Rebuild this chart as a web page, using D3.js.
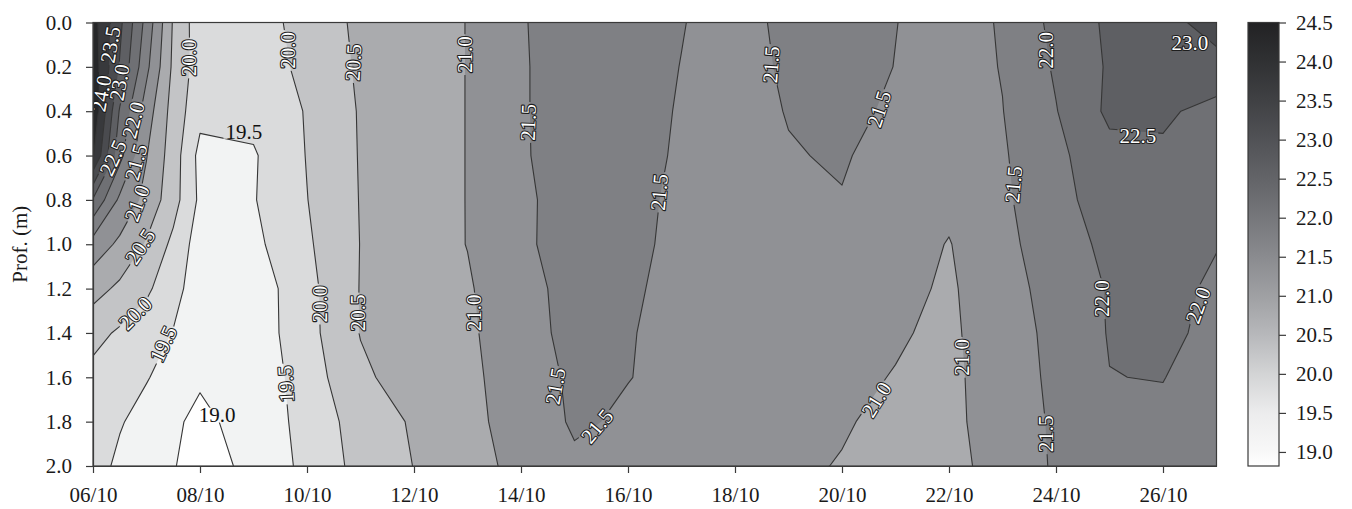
<!DOCTYPE html>
<html>
<head>
<meta charset="utf-8">
<script src="https://cdn.jsdelivr.net/npm/d3@7"></script>
<style>
  body { margin: 0; background: #fff; }
  svg { display: block; }
  text { font-family: "Liberation Serif", "Times New Roman", serif; }
</style>
</head>
<body>
<svg id="chart" width="1352" height="509"></svg>
<script>
// Sampling days (October) and depths (m) of the temperature grid
const days = [6, 6.5, 7, 7.5, 8, 9, 10, 11, 12, 13, 14, 15, 16, 17, 18, 19, 20, 21, 22, 23, 24, 25, 26, 27];
const depths = [0.0, 0.2, 0.4, 0.6, 0.8, 1.0, 1.2, 1.4, 1.6, 1.8, 2.0];

// Water temperature (°C); one row per depth, one column per day
const temperature = [
  [24.2, 23.12, 21.83, 20.45, 19.7, 19.75, 20.2, 20.6, 20.8, 21.01, 21.47, 21.7, 21.72, 21.52, 21.3, 21.63, 21.75, 21.51, 21.3, 21.54, 22.14, 22.59, 22.9, 23.12],
  [24.3, 22.96, 21.62, 20.4, 19.75, 19.7, 20.14, 20.57, 20.8, 21.01, 21.46, 21.7, 21.7, 21.49, 21.25, 21.6, 21.7, 21.49, 21.3, 21.52, 22.06, 22.56, 22.8, 22.9],
  [24.4, 22.45, 21.25, 20.3, 19.65, 19.65, 20.03, 20.54, 20.8, 21.01, 21.45, 21.75, 21.75, 21.45, 21.25, 21.53, 21.65, 21.41, 21.3, 21.49, 21.98, 22.6, 22.6, 22.3],
  [24.05, 22.15, 21.02, 20.25, 19.35, 19.45, 20.02, 20.53, 20.8, 21.01, 21.45, 21.72, 21.7, 21.43, 21.25, 21.46, 21.56, 21.25, 21.3, 21.45, 21.88, 22.35, 22.4, 22.2],
  [22.45, 21.4, 20.85, 20.2, 19.4, 19.47, 19.99, 20.52, 20.8, 21.01, 21.42, 21.68, 21.6, 21.43, 21.3, 21.35, 21.47, 21.25, 21.1, 21.4, 21.9, 22.15, 22.2, 22.1],
  [21.3, 20.9, 20.45, 19.88, 19.25, 19.38, 19.93, 20.51, 20.78, 21.01, 21.45, 21.62, 21.55, 21.45, 21.3, 21.3, 21.3, 21.2, 20.98, 21.35, 21.8, 22.1, 22.15, 22.02],
  [20.69, 20.4, 20.09, 19.67, 19.23, 19.2, 19.85, 20.52, 20.8, 20.95, 21.35, 21.65, 21.55, 21.4, 21.3, 21.25, 21.2, 21.1, 20.95, 21.24, 21.75, 22.03, 22.15, 21.92],
  [20.16, 19.93, 19.72, 19.48, 19.26, 19.2, 19.83, 20.52, 20.75, 20.9, 21.37, 21.6, 21.52, 21.4, 21.3, 21.2, 21.15, 21.05, 20.9, 21.32, 21.6, 22.03, 22.15, 21.83],
  [19.85, 19.7, 19.53, 19.3, 19.08, 19.15, 19.75, 20.4, 20.75, 20.88, 21.27, 21.58, 21.51, 21.4, 21.3, 21.2, 21.1, 20.98, 20.85, 21.35, 21.56, 21.99, 22.02, 21.65],
  [19.8, 19.54, 19.32, 19.1, 18.85, 19.27, 19.62, 20.25, 20.55, 20.87, 21.2, 21.56, 21.44, 21.35, 21.25, 21.15, 21.05, 20.86, 20.85, 21.3, 21.55, 21.8, 21.85, 21.6],
  [19.7, 19.4, 19.25, 19.02, 18.85, 19.09, 19.64, 20.15, 20.51, 20.84, 21.12, 21.42, 21.35, 21.28, 21.2, 21.1, 20.97, 20.8, 20.78, 21.28, 21.54, 21.7, 21.75, 21.55]
];

// Contour levels (°C)
const levels = [19.0, 19.5, 20.0, 20.5, 21.0, 21.5, 22.0, 22.5, 23.0, 23.5, 24.0];

// Axis ticks
const xTickDays = [6, 8, 10, 12, 14, 16, 18, 20, 22, 24, 26];
const xTickLabels = ["06/10", "08/10", "10/10", "12/10", "14/10", "16/10", "18/10", "20/10", "22/10", "24/10", "26/10"];
const yTicks = [0.0, 0.2, 0.4, 0.6, 0.8, 1.0, 1.2, 1.4, 1.6, 1.8, 2.0];
const barTicks = [19.0, 19.5, 20.0, 20.5, 21.0, 21.5, 22.0, 22.5, 23.0, 23.5, 24.0, 24.5];
const barRange = [18.82, 24.5];

// Inline contour labels: level, anchor day, anchor depth, text angle
const labelValues = [24.0, 23.5, 23.0, 22.0, 22.5, 21.5, 21.0, 20.5, 20.0, 19.5, 19.0, 19.5, 20.0, 20.0, 20.5, 21.0, 21.5, 21.5, 20.0, 20.5, 21.0, 21.5, 21.5, 21.5, 21.5, 21.5, 22.0, 22.5, 23.0, 21.0, 21.0, 21.5, 22.0, 22.0, 19.5];
const labelDays = [6.15, 6.32, 6.49, 6.75, 6.37, 6.8, 6.82, 6.88, 6.79, 7.31, 8.32, 8.82, 7.79, 9.64, 10.86, 12.95, 14.13, 16.58, 10.24, 10.95, 13.12, 14.64, 15.42, 18.67, 20.69, 23.2, 23.81, 25.53, 26.5, 20.64, 22.24, 23.81, 24.86, 26.65, 9.6];
const labelDepths = [0.32, 0.1, 0.27, 0.44, 0.61, 0.63, 0.815, 1.01, 1.31, 1.45, 1.77, 0.49, 0.16, 0.126, 0.18, 0.145, 0.45, 0.765, 1.27, 1.31, 1.31, 1.64, 1.82, 0.19, 0.39, 0.73, 0.126, 0.51, 0.09, 1.70, 1.51, 1.855, 1.245, 1.275, 1.63];
const labelAngles = [-80, -80, -80, -75, -65, -75, -70, -57, -45, -65, 0, 0, -90, -90, -87, -90, -88, -85, -90, -90, -90, -80, -50, -86, -72, -85, -90, 0, 0, -58, -90, -90, -90, -70, -93];

// Grey fills for each band (below 19.0 stays white)
const bandFill = ["#f2f3f3", "#dadbdc", "#c3c4c6", "#aaabae", "#909195", "#7f8084", "#6f7074", "#5e5f63", "#4a4b4f", "#38393c", "#262729"];
const barStops = [18.82, 19.0, 19.5, 20.0, 20.5, 21.0, 21.5, 22.0, 22.5, 23.0, 23.5, 24.0, 24.5];
const barColors = ["#ffffff", "#f8f8f8", "#ececed", "#d3d4d5", "#b7b8bb", "#9fa0a3", "#8a8b8f", "#76777b", "#636468", "#515256", "#404144", "#303133", "#222224"];

const svg = d3.select("#chart");
const W = 1352, H = 509;
const plotLeft = 93, plotRight = 1216.5, plotTop = 22.5, plotBottom = 466;

const x = d3.scaleLinear().domain([days[0], days[days.length - 1]]).range([plotLeft, plotRight]);
const y = d3.scaleLinear().domain([depths[0], depths[depths.length - 1]]).range([plotTop, plotBottom]);

// Grid index space -> data space (cell centres sit at i + 0.5)
const colToDay = d3.scaleLinear().domain(days.map((d, i) => i + 0.5)).range(days);
const rowToDepth = d3.scaleLinear().domain(depths.map((d, i) => i + 0.5)).range(depths);
const gridProjection = d3.geoTransform({
  point(px, py) { this.stream.point(x(colToDay(px)), y(rowToDepth(py))); }
});
const path = d3.geoPath(gridProjection);

const bands = d3.contours()
  .size([days.length, depths.length])
  .thresholds(levels)(temperature.flat());

const defs = svg.append("defs");
defs.append("clipPath").attr("id", "plotClip")
  .append("rect")
  .attr("x", plotLeft).attr("y", plotTop)
  .attr("width", plotRight - plotLeft).attr("height", plotBottom - plotTop);

const mask = defs.append("mask").attr("id", "labelMask")
  .attr("maskUnits", "userSpaceOnUse")
  .attr("x", 0).attr("y", 0).attr("width", W).attr("height", H);
mask.append("rect").attr("x", 0).attr("y", 0).attr("width", W).attr("height", H).attr("fill", "white");

// Filled bands
const plot = svg.append("g").attr("clip-path", "url(#plotClip)");
plot.append("rect")
  .attr("x", plotLeft).attr("y", plotTop)
  .attr("width", plotRight - plotLeft).attr("height", plotBottom - plotTop)
  .attr("fill", "#ffffff");
plot.append("g").selectAll("path")
  .data(bands)
  .join("path")
  .attr("d", path)
  .attr("fill", (d, i) => bandFill[i]);

// Contour lines, broken where labels sit
plot.append("g").attr("mask", "url(#labelMask)")
  .selectAll("path")
  .data(bands)
  .join("path")
  .attr("d", path)
  .attr("fill", "none")
  .attr("stroke", "#363636")
  .attr("stroke-width", 1.1)
  .attr("stroke-linejoin", "round");

// Inline labels
const labels = labelValues.map((v, i) => ({
  value: v, day: labelDays[i], depth: labelDepths[i], angle: labelAngles[i]
}));
const labelG = svg.append("g").attr("clip-path", "url(#plotClip)");
labels.forEach(l => {
  const tr = `translate(${x(l.day)},${y(l.depth)}) rotate(${l.angle})`;
  const plain = l.value <= 19.5 && l.angle === 0;
  const t = labelG.append("text")
    .attr("transform", tr)
    .attr("text-anchor", "middle")
    .attr("dy", "0.35em")
    .attr("font-size", 21)
    .text(d3.format(".1f")(l.value));
  if (plain) {
    t.attr("fill", "#111");
  } else {
    t.attr("fill", "#ffffff")
      .attr("stroke", "#1e1e1e")
      .attr("stroke-width", 2.2)
      .attr("paint-order", "stroke")
      .attr("stroke-linejoin", "round");
  }
  const b = t.node().getBBox();
  mask.append("rect")
    .attr("transform", tr)
    .attr("x", b.x - 2).attr("y", b.y + b.height * 0.18)
    .attr("width", b.width + 4).attr("height", b.height * 0.62)
    .attr("fill", "black");
});

// Frame
svg.append("rect")
  .attr("x", plotLeft).attr("y", plotTop)
  .attr("width", plotRight - plotLeft).attr("height", plotBottom - plotTop)
  .attr("fill", "none").attr("stroke", "#3a3a3a").attr("stroke-width", 1.2);

// Axes
const xAxis = d3.axisBottom(x)
  .tickValues(xTickDays)
  .tickFormat((d, i) => xTickLabels[i])
  .tickSize(7).tickSizeOuter(0).tickPadding(14);
const gx = svg.append("g").attr("transform", `translate(0,${plotBottom})`).call(xAxis);

const yAxis = d3.axisLeft(y)
  .tickValues(yTicks)
  .tickFormat(d3.format(".1f"))
  .tickSize(7).tickSizeOuter(0).tickPadding(14);
const gy = svg.append("g").attr("transform", `translate(${plotLeft},0)`).call(yAxis);

[gx, gy].forEach(g => {
  g.selectAll("path.domain").attr("stroke", "#3a3a3a").attr("stroke-width", 1.2);
  g.selectAll(".tick line").attr("stroke", "#3a3a3a").attr("stroke-width", 1.2);
  g.selectAll(".tick text")
    .attr("font-family", "Liberation Serif, serif")
    .attr("font-size", 21)
    .attr("fill", "#1a1a1a");
});

svg.append("text")
  .attr("transform", `translate(20,${(plotTop + plotBottom) / 2}) rotate(-90)`)
  .attr("text-anchor", "middle")
  .attr("dy", "0.35em")
  .attr("font-size", 21)
  .attr("fill", "#1a1a1a")
  .text("Prof. (m)");

// Colour bar
const barX = 1248, barW = 31;
const cb = d3.scaleLinear().domain(barRange).range([plotBottom, plotTop]);
const barColor = d3.scaleLinear().domain(barStops).range(barColors);
const grad = defs.append("linearGradient").attr("id", "barGrad")
  .attr("x1", 0).attr("y1", 1).attr("x2", 0).attr("y2", 0);
barStops.forEach(v => {
  grad.append("stop")
    .attr("offset", (v - barRange[0]) / (barRange[1] - barRange[0]))
    .attr("stop-color", barColor(v));
});
svg.append("rect")
  .attr("x", barX).attr("y", cb(barRange[1]))
  .attr("width", barW).attr("height", cb(barRange[0]) - cb(barRange[1]))
  .attr("fill", "url(#barGrad)")
  .attr("stroke", "#3a3a3a").attr("stroke-width", 1.2);

const barAxis = d3.axisRight(cb)
  .tickValues(barTicks)
  .tickFormat(d3.format(".1f"))
  .tickSize(7).tickSizeOuter(0).tickPadding(10);
const gb = svg.append("g").attr("transform", `translate(${barX + barW},0)`).call(barAxis);
gb.select("path.domain").remove();
gb.selectAll(".tick line").attr("stroke", "#3a3a3a").attr("stroke-width", 1.2);
gb.selectAll(".tick text")
  .attr("font-family", "Liberation Serif, serif")
  .attr("font-size", 21)
  .attr("fill", "#1a1a1a");
</script>
</body>
</html>
